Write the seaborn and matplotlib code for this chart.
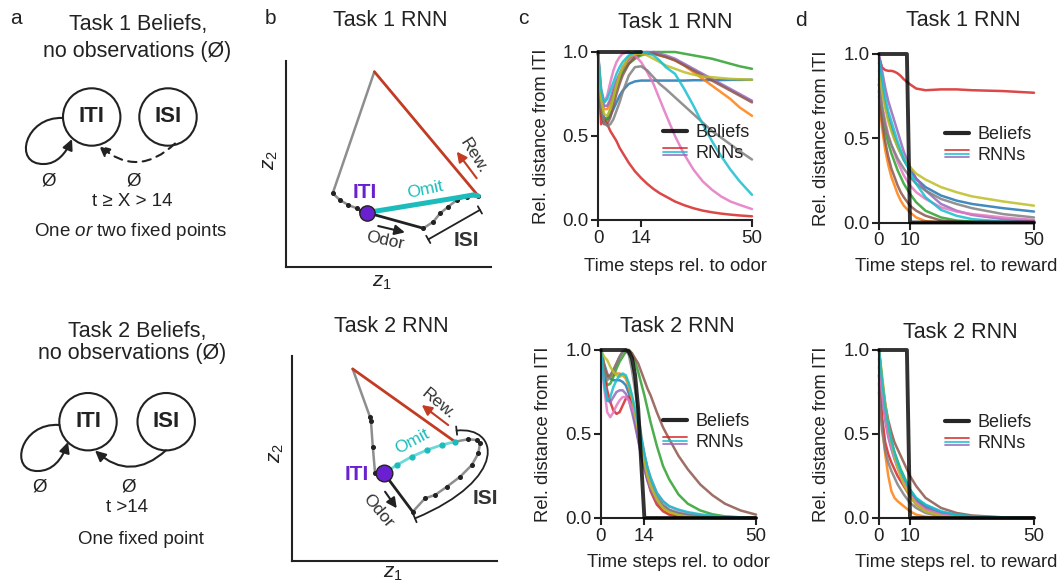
import matplotlib
matplotlib.use("Agg")
import numpy as np
import pandas as pd
import seaborn as sns
import matplotlib.pyplot as plt
from matplotlib.patches import Circle, FancyArrowPatch
from matplotlib.path import Path
from matplotlib.lines import Line2D
from matplotlib.legend_handler import HandlerBase

# ------------------------------------------------------------------ data
RNN_NAMES = [f"RNN {i}" for i in range(1, 11)]
RNN_PALETTE = ["tab:blue", "tab:orange", "tab:green", "tab:red", "tab:purple",
               "tab:brown", "tab:pink", "tab:gray", "tab:olive", "tab:cyan"]

# Task 1, time steps relative to odor
T1_ODOR_T = [0, 1, 2, 3, 4, 5, 6, 7, 8, 10, 12, 14, 16, 18, 20, 22, 25, 28, 31, 34, 37, 40, 43, 46, 50]
T1_ODOR_RNNS = [
    [1.0, 0.68, 0.61, 0.6, 0.62, 0.66, 0.7, 0.74, 0.77, 0.81, 0.825, 0.83, 0.83, 0.83, 0.83, 0.83, 0.83, 0.83, 0.832, 0.832, 0.833, 0.833, 0.834, 0.834, 0.835],
    [1.0, 0.72, 0.66, 0.66, 0.7, 0.76, 0.81, 0.86, 0.9, 0.95, 0.98, 0.995, 1.0, 0.99, 0.98, 0.97, 0.95, 0.92, 0.88, 0.84, 0.8, 0.76, 0.72, 0.67, 0.62],
    [1.0, 0.62, 0.58, 0.6, 0.66, 0.73, 0.79, 0.84, 0.88, 0.93, 0.96, 0.98, 0.99, 1.0, 1.0, 1.0, 1.0, 0.99, 0.98, 0.97, 0.96, 0.945, 0.93, 0.915, 0.9],
    [1.0, 0.57, 0.6, 0.57, 0.53, 0.5, 0.47, 0.43, 0.4, 0.34, 0.29, 0.25, 0.215, 0.185, 0.16, 0.14, 0.11, 0.088, 0.07, 0.056, 0.046, 0.038, 0.032, 0.027, 0.022],
    [1.0, 0.74, 0.68, 0.68, 0.72, 0.78, 0.83, 0.87, 0.91, 0.96, 0.99, 1.0, 1.0, 1.0, 0.99, 0.98, 0.96, 0.93, 0.9, 0.87, 0.84, 0.81, 0.78, 0.75, 0.71],
    [1.0, 0.64, 0.57, 0.57, 0.61, 0.68, 0.75, 0.81, 0.86, 0.93, 0.97, 0.99, 0.99, 0.99, 0.98, 0.97, 0.95, 0.92, 0.89, 0.86, 0.83, 0.8, 0.77, 0.74, 0.7],
    [1.0, 0.78, 0.7, 0.74, 0.82, 0.89, 0.94, 0.97, 0.99, 1.0, 0.98, 0.94, 0.88, 0.81, 0.72, 0.63, 0.5, 0.39, 0.3, 0.23, 0.18, 0.14, 0.11, 0.09, 0.065],
    [1.0, 0.68, 0.58, 0.56, 0.57, 0.6, 0.65, 0.7, 0.76, 0.86, 0.91, 0.915, 0.89, 0.85, 0.81, 0.78, 0.73, 0.68, 0.63, 0.58, 0.53, 0.49, 0.45, 0.41, 0.36],
    [1.0, 0.72, 0.63, 0.62, 0.66, 0.73, 0.8, 0.86, 0.91, 0.97, 0.99, 0.99, 0.98, 0.96, 0.94, 0.92, 0.9, 0.88, 0.865, 0.855, 0.85, 0.845, 0.84, 0.838, 0.835],
    [1.0, 0.78, 0.7, 0.72, 0.77, 0.82, 0.87, 0.91, 0.94, 0.98, 1.0, 1.0, 0.995, 0.98, 0.95, 0.91, 0.87, 0.78, 0.68, 0.57, 0.47, 0.38, 0.3, 0.23, 0.15],
]
T1_ODOR_BELIEF_T = [0, 14]
T1_ODOR_BELIEF = [1.0, 1.0]

# Task 2, time steps relative to odor
T2_ODOR_T = [0, 1, 2, 3, 4, 5, 6, 7, 8, 9, 10, 11, 12, 13, 14, 15, 16, 18, 20, 22, 25, 28, 32, 36, 40, 45, 50]
T2_ODOR_RNNS = [
    [1.0, 0.92, 0.86, 0.83, 0.82, 0.82, 0.82, 0.81, 0.79, 0.74, 0.66, 0.57, 0.47, 0.38, 0.3, 0.23, 0.18, 0.11, 0.07, 0.045, 0.028, 0.018, 0.01, 0.006, 0.003, 0.001, 0.0],
    [1.0, 0.9, 0.85, 0.84, 0.85, 0.86, 0.86, 0.85, 0.83, 0.78, 0.7, 0.6, 0.5, 0.4, 0.31, 0.24, 0.18, 0.1, 0.055, 0.03, 0.015, 0.007, 0.003, 0.001, 0.0, 0.0, 0.0],
    [1.0, 0.86, 0.79, 0.8, 0.84, 0.89, 0.93, 0.96, 0.99, 1.0, 0.98, 0.93, 0.87, 0.8, 0.73, 0.65, 0.57, 0.43, 0.31, 0.23, 0.14, 0.085, 0.045, 0.022, 0.01, 0.004, 0.0],
    [1.0, 0.85, 0.76, 0.69, 0.64, 0.62, 0.63, 0.67, 0.71, 0.72, 0.68, 0.6, 0.5, 0.4, 0.31, 0.23, 0.16, 0.08, 0.04, 0.02, 0.008, 0.003, 0.001, 0.0, 0.0, 0.0, 0.0],
    [1.0, 0.82, 0.7, 0.69, 0.72, 0.75, 0.76, 0.76, 0.74, 0.7, 0.63, 0.55, 0.46, 0.37, 0.29, 0.22, 0.17, 0.1, 0.065, 0.042, 0.025, 0.015, 0.008, 0.004, 0.002, 0.001, 0.0],
    [1.0, 0.9, 0.84, 0.85, 0.88, 0.92, 0.96, 0.99, 1.0, 1.0, 0.98, 0.95, 0.92, 0.87, 0.82, 0.77, 0.73, 0.63, 0.54, 0.47, 0.37, 0.29, 0.2, 0.135, 0.085, 0.045, 0.02],
    [1.0, 0.78, 0.63, 0.6, 0.63, 0.67, 0.7, 0.72, 0.72, 0.7, 0.66, 0.6, 0.53, 0.45, 0.37, 0.3, 0.24, 0.15, 0.1, 0.07, 0.045, 0.03, 0.018, 0.01, 0.005, 0.002, 0.0],
    [1.0, 0.88, 0.82, 0.84, 0.88, 0.92, 0.96, 0.99, 1.0, 0.97, 0.88, 0.76, 0.62, 0.49, 0.38, 0.29, 0.22, 0.13, 0.08, 0.05, 0.03, 0.018, 0.01, 0.005, 0.002, 0.001, 0.0],
    [1.0, 0.96, 0.94, 0.9, 0.87, 0.85, 0.84, 0.85, 0.84, 0.8, 0.72, 0.62, 0.52, 0.42, 0.33, 0.25, 0.19, 0.11, 0.06, 0.035, 0.018, 0.008, 0.003, 0.001, 0.0, 0.0, 0.0],
    [1.0, 0.8, 0.7, 0.72, 0.78, 0.82, 0.85, 0.86, 0.85, 0.8, 0.73, 0.65, 0.56, 0.47, 0.38, 0.3, 0.24, 0.15, 0.1, 0.07, 0.05, 0.035, 0.022, 0.013, 0.007, 0.003, 0.0],
]
T2_ODOR_BELIEF = [1.0, 1.0, 1.0, 1.0, 1.0, 1.0, 1.0, 1.0, 1.0, 0.99, 0.95, 0.85, 0.65, 0.32, 0.0,
                  0.0, 0.0, 0.0, 0.0, 0.0, 0.0, 0.0, 0.0, 0.0, 0.0, 0.0, 0.0]

# time steps relative to reward (both tasks)
REW_T = [0, 1, 2, 3, 4, 5, 6, 7, 8, 10, 12, 15, 20, 25, 30, 40, 50]
T1_REW_RNNS = [
    [0.95, 0.8, 0.7, 0.62, 0.56, 0.5, 0.45, 0.41, 0.37, 0.31, 0.26, 0.21, 0.16, 0.13, 0.11, 0.085, 0.065],
    [0.75, 0.56, 0.43, 0.34, 0.27, 0.22, 0.17, 0.13, 0.1, 0.06, 0.03, 0.008, 0.0, 0.0, 0.0, 0.0, 0.0],
    [0.82, 0.66, 0.55, 0.47, 0.41, 0.36, 0.31, 0.27, 0.23, 0.17, 0.12, 0.07, 0.03, 0.012, 0.005, 0.0, 0.0],
    [0.98, 0.92, 0.905, 0.9, 0.9, 0.895, 0.885, 0.87, 0.85, 0.82, 0.795, 0.785, 0.79, 0.79, 0.785, 0.78, 0.77],
    [1.0, 0.9, 0.8, 0.72, 0.66, 0.6, 0.54, 0.48, 0.42, 0.33, 0.26, 0.19, 0.11, 0.07, 0.045, 0.02, 0.012],
    [0.78, 0.6, 0.48, 0.39, 0.32, 0.27, 0.22, 0.18, 0.15, 0.1, 0.07, 0.04, 0.012, 0.003, 0.0, 0.0, 0.0],
    [0.85, 0.7, 0.6, 0.52, 0.46, 0.41, 0.36, 0.32, 0.28, 0.22, 0.18, 0.14, 0.09, 0.065, 0.05, 0.03, 0.015],
    [0.82, 0.68, 0.58, 0.51, 0.46, 0.42, 0.38, 0.35, 0.32, 0.27, 0.23, 0.19, 0.14, 0.11, 0.085, 0.05, 0.03],
    [0.9, 0.78, 0.68, 0.6, 0.54, 0.49, 0.45, 0.41, 0.38, 0.33, 0.29, 0.255, 0.21, 0.18, 0.155, 0.125, 0.1],
    [0.97, 0.85, 0.74, 0.66, 0.6, 0.54, 0.48, 0.43, 0.38, 0.3, 0.23, 0.15, 0.075, 0.04, 0.02, 0.005, 0.0],
]
T2_REW_RNNS = [
    [1.0, 0.78, 0.63, 0.53, 0.45, 0.38, 0.32, 0.27, 0.23, 0.16, 0.115, 0.075, 0.035, 0.018, 0.008, 0.002, 0.0],
    [0.8, 0.55, 0.38, 0.25, 0.16, 0.12, 0.1, 0.085, 0.07, 0.04, 0.02, 0.008, 0.002, 0.0, 0.0, 0.0, 0.0],
    [1.0, 0.8, 0.65, 0.54, 0.46, 0.39, 0.34, 0.29, 0.25, 0.17, 0.11, 0.06, 0.02, 0.008, 0.003, 0.0, 0.0],
    [0.85, 0.6, 0.45, 0.38, 0.33, 0.29, 0.25, 0.22, 0.19, 0.13, 0.08, 0.045, 0.015, 0.005, 0.0, 0.0, 0.0],
    [0.9, 0.72, 0.58, 0.48, 0.41, 0.35, 0.3, 0.26, 0.22, 0.15, 0.1, 0.06, 0.025, 0.01, 0.005, 0.001, 0.0],
    [1.0, 0.82, 0.68, 0.58, 0.51, 0.45, 0.41, 0.37, 0.33, 0.25, 0.19, 0.12, 0.06, 0.03, 0.015, 0.004, 0.0],
    [0.95, 0.75, 0.6, 0.5, 0.42, 0.36, 0.3, 0.25, 0.21, 0.14, 0.09, 0.05, 0.02, 0.008, 0.003, 0.0, 0.0],
    [0.75, 0.52, 0.4, 0.33, 0.28, 0.24, 0.2, 0.17, 0.14, 0.09, 0.06, 0.03, 0.01, 0.003, 0.0, 0.0, 0.0],
    [1.0, 0.85, 0.68, 0.55, 0.45, 0.37, 0.3, 0.25, 0.2, 0.13, 0.08, 0.04, 0.012, 0.004, 0.0, 0.0, 0.0],
    [1.0, 0.82, 0.66, 0.55, 0.46, 0.39, 0.33, 0.28, 0.24, 0.17, 0.12, 0.08, 0.04, 0.02, 0.01, 0.003, 0.0],
]
REW_BELIEF_T = [0, 9, 10, 50]
REW_BELIEF = [1.0, 1.0, 0.0, 0.0]

# Low-dimensional RNN trajectories (z1, z2), Task 1
T1_RETURN_Z1, T1_RETURN_Z2 = [0.431, 0.228], [0.948, 0.358]
T1_SETTLE_Z1 = [0.228, 0.263, 0.304, 0.345, 0.367, 0.394]
T1_SETTLE_Z2 = [0.358, 0.325, 0.301, 0.285, 0.273, 0.264]
T1_ODOR_Z1, T1_ODOR_Z2 = [0.394, 0.67], [0.264, 0.188]
T1_ISI_Z1 = [0.67, 0.719, 0.751, 0.792, 0.833, 0.881, 0.938]
T1_ISI_Z2 = [0.188, 0.22, 0.26, 0.293, 0.325, 0.341, 0.345]
T1_REW_Z1, T1_REW_Z2 = [0.938, 0.431], [0.345, 0.948]
T1_OMIT_Z1 = [0.394, 0.523, 0.67, 0.816, 0.914, 0.938]
T1_OMIT_Z2 = [0.264, 0.285, 0.309, 0.333, 0.35, 0.345]
T1_ITI_Z = (0.394, 0.264)

# Task 2
T2_RETURN_Z1 = [0.296, 0.38, 0.385, 0.394, 0.405, 0.449]
T2_RETURN_Z2 = [0.937, 0.704, 0.684, 0.558, 0.431, 0.428]
T2_ODOR_Z1, T2_ODOR_Z2 = [0.449, 0.589], [0.428, 0.24]
T2_ISI_Z1 = [0.589, 0.649, 0.698, 0.755, 0.82, 0.877, 0.909, 0.917, 0.901, 0.86, 0.795]
T2_ISI_Z2 = [0.24, 0.306, 0.322, 0.362, 0.411, 0.468, 0.525, 0.574, 0.59, 0.594, 0.582]
T2_REW_Z1, T2_REW_Z2 = [0.795, 0.296], [0.582, 0.937]
T2_OMIT_Z1 = [0.449, 0.511, 0.584, 0.657, 0.73, 0.795]
T2_OMIT_Z2 = [0.428, 0.468, 0.509, 0.541, 0.566, 0.582]
T2_ITI_Z = (0.449, 0.428)

# ------------------------------------------------------------------ style
W, H = 1063, 584
sns.set_theme(style="ticks")
plt.rcParams["font.family"] = ["Liberation Sans", "DejaVu Sans"]
plt.rcParams.update({
    "mathtext.fontset": "custom",
    "mathtext.rm": "Liberation Sans",
    "mathtext.it": "Liberation Sans:italic",
    "axes.linewidth": 1.5,
    "axes.edgecolor": "#222222",
    "text.color": "#222222",
    "axes.labelcolor": "#222222",
    "xtick.color": "#222222",
    "ytick.color": "#222222",
})
INK = "#222222"
RED = "#C23B22"
GRAY = "#8E8E8E"
CYAN = "#1CBCBC"
VIOLET = "#6A1FD0"

fig = plt.figure(figsize=(W / 100, H / 100), dpi=100)


def ptext(x, y, s, **kw):
    kw.setdefault("ha", "center")
    kw.setdefault("va", "center")
    fig.text(x / W, 1 - y / H, s, **kw)


def place(left, top, right, bottom):
    return fig.add_axes([left / W, 1 - bottom / H, (right - left) / W, (bottom - top) / H])


class StackedLines(HandlerBase):
    """Legend key made of several thin stacked coloured lines."""

    def __init__(self, colors, gap):
        super().__init__()
        self.colors = colors
        self.gap = gap

    def create_artists(self, legend, orig_handle, xdescent, ydescent,
                       width, height, fontsize, trans):
        y0 = height / 2 - ydescent
        arts = []
        for i, c in enumerate(self.colors):
            y = y0 + (1 - i) * self.gap
            ln = Line2D([-xdescent, -xdescent + width], [y, y], color=c, lw=1.3, alpha=0.85)
            ln.set_transform(trans)
            arts.append(ln)
        return arts


# ------------------------------------------------------------------ panel a
ax_a = fig.add_axes([0, 0, 260 / W, 1])
ax_a.set_xlim(0, 260)
ax_a.set_ylim(H, 0)
ax_a.axis("off")

HEAD = "-|>,head_length=0.45,head_width=0.22"


def belief_graph(ax, iti_xy, isi_xy, loop_pts, arc_a, arc_b, dashed):
    for (cx, cy), lab in ((iti_xy, "ITI"), (isi_xy, "ISI")):
        ax.add_patch(Circle((cx, cy), 28.7, fill=False, lw=1.5, ec=INK))
        ax.text(cx, cy, lab, fontsize=16, fontweight="bold", ha="center", va="center", color=INK)
    path = Path(loop_pts, [Path.MOVETO] + [Path.CURVE4] * 6)
    ax.add_patch(FancyArrowPatch(path=path, arrowstyle=HEAD, mutation_scale=14, lw=1.5, color=INK))
    ax.add_patch(FancyArrowPatch(arc_a, arc_b, arrowstyle=HEAD, mutation_scale=14, lw=1.5,
                                 color=INK, connectionstyle="arc3,rad=-0.45",
                                 linestyle=(0, (4, 3)) if dashed else "-",
                                 shrinkA=0, shrinkB=0))


ax_a.text(138, 24.5, "Task 1 Beliefs,", fontsize=15.5, ha="center", va="center")
ax_a.text(137.5, 51, "no observations (Ø)", fontsize=15.5, ha="center", va="center")
belief_graph(ax_a, (91.7, 117), (168, 117),
             [(63, 118), (25, 116), (12, 165), (44, 164), (57, 164), (66, 153), (72, 139)],
             (175, 143.5), (99, 145.5), dashed=True)
ax_a.text(48.3, 181, "Ø", fontsize=13.5, ha="center", va="center")
ax_a.text(133.3, 181, "Ø", fontsize=13.5, ha="center", va="center")
ax_a.text(132.5, 201, "t ≥ X > 14", fontsize=13.5, ha="center", va="center")
ax_a.text(131, 231, r"One $\it{or}$ two fixed points", fontsize=13.5, ha="center", va="center")

ax_a.text(136.7, 332, "Task 2 Beliefs,", fontsize=15.5, ha="center", va="center")
ax_a.text(132.5, 354, "no observations (Ø)", fontsize=15.5, ha="center", va="center")
belief_graph(ax_a, (88, 421.7), (166.2, 421.7),
             [(59.5, 425), (20, 422), (8, 472), (38, 471), (52, 471), (62, 460), (68, 442)],
             (166, 450.3), (95, 450.5), dashed=False)
ax_a.text(40, 487, "Ø", fontsize=13.5, ha="center", va="center")
ax_a.text(128.3, 487, "Ø", fontsize=13.5, ha="center", va="center")
ax_a.text(126.5, 507, "t >14", fontsize=13.5, ha="center", va="center")
ax_a.text(141, 540, "One fixed point", fontsize=13.5, ha="center", va="center")

# ------------------------------------------------------------------ panel b


def state_axes(ax, z1_xy, z2_xy):
    ax.set_xlim(0, 1)
    ax.set_ylim(0, 1)
    ax.set_xticks([])
    ax.set_yticks([])
    sns.despine(ax=ax)
    ax.set_facecolor("none")
    ax.set_xlabel(r"$z_1$", fontsize=15)
    ax.set_ylabel(r"$z_2$", fontsize=15)
    ax.xaxis.set_label_coords(*z1_xy)
    ax.yaxis.set_label_coords(*z2_xy)
    ax.xaxis.label.set_va("center")
    ax.yaxis.label.set_va("center")


def arrow(ax, tail, tip, color):
    ax.annotate("", xy=tip, xytext=tail,
                arrowprops=dict(arrowstyle="-|>,head_length=0.5,head_width=0.25",
                                color=color, lw=1.5, mutation_scale=12,
                                shrinkA=0, shrinkB=0))


dots = dict(marker="o", ms=2.6, mfc=INK, mec=INK)

ax_b1 = place(286, 61, 491, 267)
state_axes(ax_b1, (0.468, -0.075), (-0.078, 0.519))
ax_b1.plot(T1_RETURN_Z1, T1_RETURN_Z2, color=GRAY, lw=1.8)
ax_b1.plot(T1_SETTLE_Z1, T1_SETTLE_Z2, color=GRAY, lw=1.8, **dots)
ax_b1.plot(T1_ISI_Z1, T1_ISI_Z2, color=GRAY, lw=1.8, **dots)
ax_b1.plot(T1_ODOR_Z1, T1_ODOR_Z2, color=INK, lw=2)
ax_b1.plot(T1_REW_Z1, T1_REW_Z2, color=RED, lw=2)
ax_b1.plot(T1_OMIT_Z1, T1_OMIT_Z2, color=CYAN, lw=3.6, solid_capstyle="round")
ax_b1.plot(*T1_ITI_Z, "o", ms=11, mfc=VIOLET, mec=INK, mew=1, zorder=6)
ax_b1.text(0.385, 0.36, "ITI", color=VIOLET, fontsize=15, fontweight="bold", ha="center", va="center")
ax_b1.text(0.678, 0.376, "Omit", color=CYAN, fontsize=12.5, rotation=12, ha="center", va="center")
ax_b1.text(0.914, 0.54, "Rew.", color="#333333", fontsize=12.5, rotation=-58, ha="center", va="center")
arrow(ax_b1, (0.93, 0.431), (0.833, 0.56), RED)
ax_b1.text(0.483, 0.128, "Odor", color="#333333", fontsize=12.5, rotation=-12, ha="center", va="center")
arrow(ax_b1, (0.45, 0.199), (0.58, 0.168), INK)
ax_b1.annotate("", xy=(0.946, 0.277), xytext=(0.694, 0.134),
               arrowprops=dict(arrowstyle="|-|,widthA=0.3,widthB=0.3", color=INK, lw=1.3,
                               mutation_scale=10, shrinkA=0, shrinkB=0))
ax_b1.text(0.881, 0.128, "ISI", color="#333333", fontsize=15, fontweight="bold", ha="center", va="center")

ax_b2 = place(292, 356, 497, 561)
state_axes(ax_b2, (0.494, -0.062), (-0.075, 0.525))
ax_b2.plot(T2_RETURN_Z1[:2], T2_RETURN_Z2[:2], color=GRAY, lw=1.8)
ax_b2.plot(T2_RETURN_Z1[1:-1], T2_RETURN_Z2[1:-1], color=GRAY, lw=1.8, **dots)
ax_b2.plot(T2_RETURN_Z1[-2:], T2_RETURN_Z2[-2:], color=INK, lw=2)
ax_b2.plot(T2_ISI_Z1, T2_ISI_Z2, color=GRAY, lw=1.8, **dots)
ax_b2.plot(T2_ODOR_Z1, T2_ODOR_Z2, color=INK, lw=2)
ax_b2.plot(T2_REW_Z1, T2_REW_Z2, color=RED, lw=2)
ax_b2.plot(T2_OMIT_Z1, T2_OMIT_Z2, color="#6FD9D9", lw=2, marker="o", ms=3.5,
           mfc=CYAN, mec=CYAN)
ax_b2.plot(*T2_ITI_Z, "o", ms=12, mfc=VIOLET, mec=INK, mew=1, zorder=6)
ax_b2.text(0.316, 0.42, "ITI", color=VIOLET, fontsize=15, fontweight="bold", ha="center", va="center")
ax_b2.text(0.584, 0.585, "Omit", color=CYAN, fontsize=12.5, rotation=28, ha="center", va="center")
ax_b2.text(0.714, 0.765, "Rew.", color="#333333", fontsize=12.5, rotation=-40, ha="center", va="center")
arrow(ax_b2, (0.762, 0.663), (0.633, 0.761), RED)
ax_b2.text(0.421, 0.245, "Odor", color="#333333", fontsize=12.5, rotation=-50, ha="center", va="center")
arrow(ax_b2, (0.454, 0.338), (0.511, 0.257), INK)
bracket = Path([(0.803, 0.636), (1.01, 0.66), (1.06, 0.40), (0.6, 0.208)],
               [Path.MOVETO, Path.CURVE4, Path.CURVE4, Path.CURVE4])
ax_b2.add_patch(FancyArrowPatch(path=bracket, arrowstyle="|-|,widthA=0.3,widthB=0.3",
                                mutation_scale=10, lw=1.3, color=INK, clip_on=False))
ax_b2.text(0.941, 0.306, "ISI", color="#333333", fontsize=15, fontweight="bold", ha="center", va="center")

# ------------------------------------------------------------------ panels c, d


def distance_panel(ax, grid, rnns, belief_t, belief_v, xticks, xlabel, ylab_x, xlab_y, legend_xy):
    df = pd.DataFrame({
        "t": np.tile(grid, len(rnns)),
        "v": np.concatenate([np.asarray(r, float) for r in rnns]),
        "rnn": np.repeat(RNN_NAMES, len(grid)),
    })
    sns.lineplot(data=df, x="t", y="v", hue="rnn", hue_order=RNN_NAMES, palette=RNN_PALETTE,
                 estimator=None, sort=False, lw=1.8, alpha=0.85, legend=False, ax=ax)
    ax.plot(belief_t, belief_v, color="black", lw=2.8, alpha=0.8, zorder=5)
    for ln in ax.lines:
        ln.set_clip_on(False)
    ax.set_xlim(0, 50)
    ax.set_ylim(0, 1)
    ax.set_xticks(xticks)
    ax.set_yticks([0, 0.5, 1.0])
    ax.set_yticklabels(["0.0", "0.5", "1.0"])
    ax.tick_params(length=5, width=1.5, pad=2, labelsize=13.5)
    sns.despine(ax=ax)
    ax.set_xlabel(xlabel, fontsize=13.3)
    ax.set_ylabel("Rel. distance from ITI", fontsize=13.3)
    ax.xaxis.set_label_coords(0.5, xlab_y)
    ax.yaxis.set_label_coords(ylab_x, 0.5)
    ax.xaxis.label.set_va("center")
    ax.yaxis.label.set_va("center")

    belief_key = Line2D([], [], color="black", lw=3, alpha=0.85)
    rnn_key = Line2D([], [])
    ax.legend([belief_key, rnn_key], ["Beliefs", "RNNs"],
              handler_map={rnn_key: StackedLines(["tab:red", "tab:cyan", "tab:purple"], 2.3)},
              loc="upper left", bbox_to_anchor=(legend_xy[0] / W, 1 - legend_xy[1] / H),
              bbox_transform=fig.transFigure, frameon=False, fontsize=13,
              borderpad=0, borderaxespad=0, handlelength=1.35, handletextpad=0.45,
              labelspacing=0.22)


ax_c1 = place(598, 52, 752, 220)
distance_panel(ax_c1, T1_ODOR_T, T1_ODOR_RNNS, T1_ODOR_BELIEF_T, T1_ODOR_BELIEF,
               [0, 14, 50], "Time steps rel. to odor", -0.366, -0.278, (663, 124))
ax_d1 = place(879, 54, 1034, 222.5)
distance_panel(ax_d1, REW_T, T1_REW_RNNS, REW_BELIEF_T, REW_BELIEF,
               [0, 10, 50], "Time steps rel. to reward", -0.37, -0.262, (945, 126))
ax_c2 = place(601, 350, 756, 518)
distance_panel(ax_c2, T2_ODOR_T, T2_ODOR_RNNS, T2_ODOR_T, T2_ODOR_BELIEF,
               [0, 14, 50], "Time steps rel. to odor", -0.372, -0.266, (663, 413))
ax_d2 = place(879, 350, 1034, 518)
distance_panel(ax_d2, REW_T, T2_REW_RNNS, REW_BELIEF_T, REW_BELIEF,
               [0, 10, 50], "Time steps rel. to reward", -0.37, -0.266, (945, 414))

# ------------------------------------------------------------------ titles and panel letters
ptext(390, 21, "Task 1 RNN", fontsize=15.5)
ptext(391.7, 326, "Task 2 RNN", fontsize=15.5)
ptext(675, 22, "Task 1 RNN", fontsize=15.5)
ptext(963, 21, "Task 1 RNN", fontsize=15.5)
ptext(677, 327, "Task 2 RNN", fontsize=15.5)
ptext(960, 332, "Task 2 RNN", fontsize=15.5)
for x, y, s in ((16, 19, "a"), (270, 19, "b"), (523, 19, "c"), (801, 20, "d")):
    ptext(x, y, s, fontsize=15)

fig.savefig("out.png", dpi=100)
